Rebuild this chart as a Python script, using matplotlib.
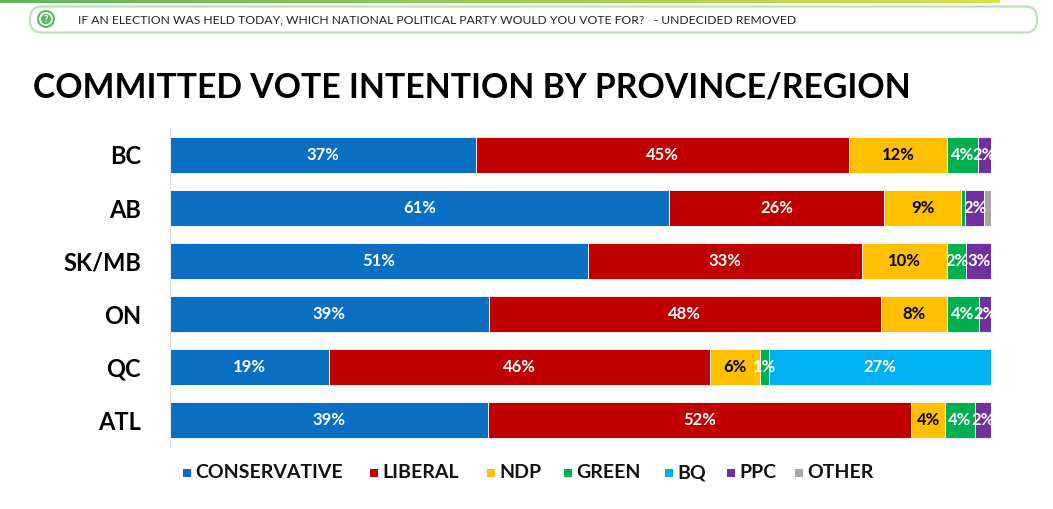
import numpy as np
import matplotlib
matplotlib.use("Agg")
import matplotlib.pyplot as plt
from matplotlib.patches import FancyBboxPatch, Circle, Rectangle

# data (share of committed vote, %)
regions = ["BC", "AB", "SK/MB", "ON", "QC", "ATL"]
parties = ["CONSERVATIVE", "LIBERAL", "NDP", "GREEN", "BQ", "PPC", "OTHER"]
conservative = [37.3, 60.8, 50.9, 38.8, 19.4, 38.7]
liberal = [45.4, 26.2, 33.4, 47.8, 46.4, 51.6]
ndp = [11.9, 9.3, 10.3, 8.0, 6.1, 4.1]
green = [3.8, 0.5, 2.4, 3.9, 1.0, 3.6]
bq = [0.0, 0.0, 0.0, 0.0, 27.1, 0.0]
ppc = [1.6, 2.4, 3.0, 1.5, 0.0, 2.1]
other = [0.0, 0.8, 0.0, 0.0, 0.0, 0.0]

colors = ["#0a6fc2", "#c00000", "#ffc000", "#00b050", "#00b0f0", "#7030a0", "#a6a6a6"]
label_colors = ["white", "white", "black", "white", "white", "white", "white"]

series = [conservative, liberal, ndp, green, bq, ppc, other]

plt.rcParams['font.family'] = ['Lato', 'DejaVu Sans']

W, H = 1053, 509
fig = plt.figure(figsize=(W / 100, H / 100), dpi=100)

# top gradient strip
grad = fig.add_axes([0, 1 - 3 / H, 1000 / W, 3 / H])
grad.imshow(np.linspace(0, 1, 256).reshape(1, -1), aspect="auto",
            cmap=matplotlib.colors.LinearSegmentedColormap.from_list("g", ["#5cb85c", "#d8e04a"]))
grad.axis("off")

# question banner
bg = fig.add_axes([0, 0, 1, 1], zorder=-1)
bg.set_xlim(0, W)
bg.set_ylim(H, 0)
bg.axis("off")
bg.add_patch(FancyBboxPatch((30, 6.5), 1007, 26, boxstyle="round,pad=0,rounding_size=12",
                            fc="white", ec="#b9dfb9", lw=1.5))
bg.add_patch(Circle((46, 19), 9, fc="#5cb85c", ec="none"))
bg.add_patch(Circle((46, 19), 6, fc="none", ec="white", lw=1.3))
bg.text(46, 19.5, "?", color="white", fontsize=7, fontweight="bold", ha="center", va="center")
bg.text(78, 19.5, "IF AN ELECTION WAS HELD TODAY, WHICH NATIONAL POLITICAL PARTY WOULD YOU VOTE FOR?   - UNDECIDED REMOVED",
        fontsize=8.7, ha="left", va="center", color="#222222")

bg.text(33, 87, "COMMITTED VOTE INTENTION BY PROVINCE/REGION", fontsize=24.3,
        fontweight="bold", ha="left", va="center", color="black")

# bars
ax = fig.add_axes([170 / W, 1 - 446.5 / H, 821 / W, 318 / H])
y = np.arange(len(regions))
left = np.zeros(len(regions))
for vals, c, tc in zip(series, colors, label_colors):
    vals = np.array(vals)
    ax.barh(y, vals, left=left, height=0.68, color=c, edgecolor="white", linewidth=0.6)
    for yi, l, v in zip(y, left, vals):
        if v >= 1:
            ax.text(l + v / 2, yi, f"{round(v)}%", ha="center", va="center",
                    color=tc, fontsize=12, fontweight="bold")
    left += vals

ax.set_xlim(0, 100)
ax.set_ylim(len(regions) - 0.5, -0.5)
ax.set_yticks(y)
ax.set_yticklabels(regions, fontsize=17, fontweight="bold")
ax.tick_params(axis="y", length=0, pad=21)
ax.set_xticks([])
for s in ["top", "right", "bottom"]:
    ax.spines[s].set_visible(False)
ax.spines["left"].set_color("#e0e0e0")
ax.spines["left"].set_linewidth(0.8)

# legend
leg_x = [183, 370, 487, 564, 665, 727, 795]
for lx, name, c in zip(leg_x, parties, colors):
    bg.add_patch(Rectangle((lx, 468.5), 8, 8, fc=c, ec="none"))
    bg.text(lx + 12, 473, name, fontsize=14, fontweight="bold", ha="left", va="center", color="#111111")

fig.savefig("out.png", dpi=100)
